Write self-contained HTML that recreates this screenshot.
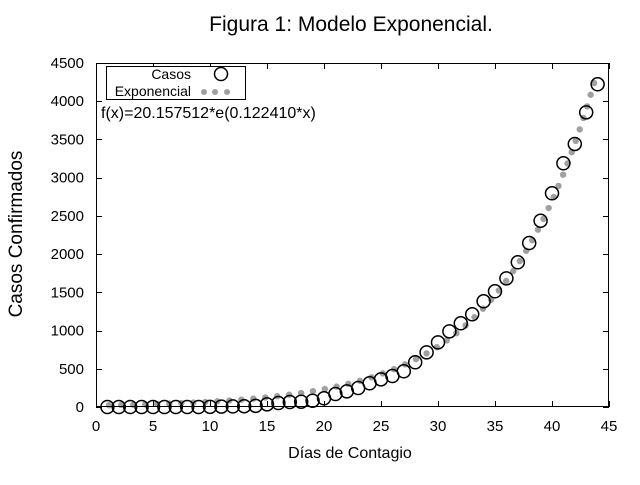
<!DOCTYPE html>
<html><head><meta charset="utf-8"><style>
body{margin:0;background:#fff;width:640px;height:480px;overflow:hidden}
svg text{font-family:"Liberation Sans",Arial,sans-serif}
</style></head><body>
<svg id="s" width="640" height="480" viewBox="0 0 640 480" xmlns="http://www.w3.org/2000/svg">
<rect width="640" height="480" fill="#fff"/>
<text x="351" y="31" font-size="21" text-anchor="middle">Figura 1: Modelo Exponencial.</text>
<text x="350" y="458" font-size="16" text-anchor="middle">Días de Contagio</text>
<text transform="translate(22,234) rotate(-90)" font-size="19" text-anchor="middle">Casos Confirmados</text>
<g id="pts"></g>
<g id="ax" stroke="#000" stroke-width="1" fill="none"><rect x="96.5" y="63.5" width="512" height="343"/></g>
<g id="lbl" font-size="15"></g>
<rect x="106.5" y="66.5" width="139" height="33" fill="#fff" stroke="#000"/>
<text x="191" y="79" font-size="14" text-anchor="end">Casos</text>
<circle cx="221" cy="74" r="6.5" fill="none" stroke="#000" stroke-width="1.5"/>
<text x="191" y="96" font-size="14" text-anchor="end">Exponencial</text>
<circle cx="204" cy="92" r="3" fill="#a0a0a0"/><circle cx="215" cy="92" r="3" fill="#a0a0a0"/><circle cx="227" cy="92" r="3" fill="#a0a0a0"/>
<text x="101" y="118" font-size="16">f(x)=20.157512*e(0.122410*x)</text>
</svg>
<script>
var NS="http://www.w3.org/2000/svg";
function X(v){return 96+v*11.4;} function Y(v){return 407-v*0.07644;}
function el(t,a,p){var e=document.createElementNS(NS,t);for(var k in a)e.setAttribute(k,a[k]);if(p)p.appendChild(e);return e;}
var ax=document.getElementById('ax'),lbl=document.getElementById('lbl'),pts=document.getElementById('pts');
for(var i=0;i<=45;i+=5){var x=Math.round(X(i))+0.5;el('line',{x1:x,y1:407,x2:x,y2:401},ax);el('line',{x1:x,y1:63,x2:x,y2:69},ax);
 var t=el('text',{x:X(i),y:431,'text-anchor':'middle'},lbl);t.textContent=i;}
for(var v=0;v<=4500;v+=500){var y=Math.round(Y(v))+0.5;el('line',{x1:96,y1:y,x2:102,y2:y},ax);el('line',{x1:609,y1:y,x2:603,y2:y},ax);
 var t=el('text',{x:84,y:Y(v)+5,'text-anchor':'end'},lbl);t.textContent=v;}
function f(x){return 20.157512*Math.exp(0.12241*x);}
var px=X(1.15),py=Y(f(1.15)),acc=0;el('circle',{cx:px,cy:py,r:3.2,fill:'#a0a0a0'},pts);
for(var x=1.15;x<=43.88;x+=0.005){var nx=X(x),ny=Y(f(x));acc+=Math.hypot(nx-px,ny-py);px=nx;py=ny;
 if(acc>=12){acc=0;el('circle',{cx:nx,cy:ny,r:3.2,fill:'#a0a0a0'},pts);}}
var d=[0,0,0,0,0,0,0,0,0,2,5,8,10,15,35,52,65,69,82,114,170,205,248,310,362,405,467,585,715,846,990,1095,1213,1383,1514,1683,1893,2145,2437,2796,3188,3441,3855,4222];
for(var i=0;i<d.length;i++){el('circle',{cx:X(i+1),cy:Y(d[i]),r:6.5,fill:'none',stroke:'#000','stroke-width':1.5},pts);}
</script>
</body></html>
